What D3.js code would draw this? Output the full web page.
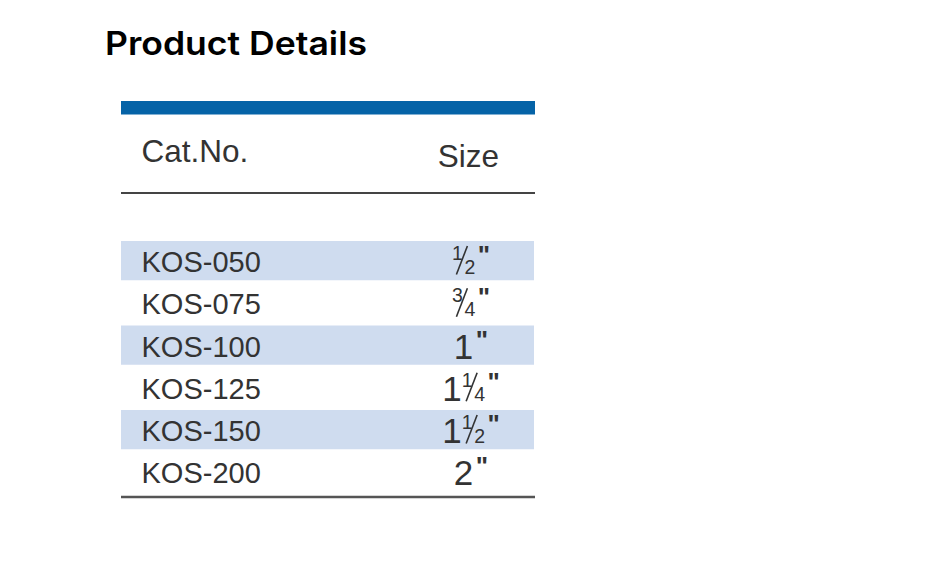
<!DOCTYPE html>
<html>
<head>
<meta charset="utf-8">
<script src="https://cdn.jsdelivr.net/npm/d3@7"></script>
<style>
  body { margin: 0; background: #fff; }
  svg { display: block; }
</style>
</head>
<body>
<svg id="chart"></svg>
<script>
// table content
const titleText = "Product Details";
const columns = ["Cat.No.", "Size"];
const catNos = ["KOS-050", "KOS-075", "KOS-100", "KOS-125", "KOS-150", "KOS-200"];
const sizeWhole = ["", "", "1", "1", "1", "2"];
const sizeNum = ["1", "3", "", "1", "1", ""];
const sizeDen = ["2", "4", "", "4", "2", ""];

const width = 952, height = 578;
const table = { left: 121, right: 535, top: 241, rowStep: 42.25 };
const font = "'Liberation Sans', Arial, sans-serif";
const ink = "#333";

const svg = d3.select("#chart")
  .attr("width", width)
  .attr("height", height);

// title
svg.append("text")
  .attr("x", 105)
  .attr("y", 54.5)
  .attr("font-family", "Inter, 'Noto Sans', sans-serif")
  .attr("font-weight", 600)
  .attr("font-size", 33)
  .attr("textLength", 262)
  .attr("lengthAdjust", "spacingAndGlyphs")
  .attr("fill", "#000")
  .text(titleText);

// column positions
const xCol = d3.scaleOrdinal()
  .domain(columns)
  .range([141.5, 470]);

// row positions
const yRow = d3.scaleBand()
  .domain(catNos)
  .range([table.top, table.top + table.rowStep * catNos.length]);

// blue bar on top
svg.append("rect")
  .attr("x", table.left)
  .attr("y", 101)
  .attr("width", table.right - table.left)
  .attr("height", 13.5)
  .attr("fill", "#0563a7");

// header labels
svg.selectAll(".col-head")
  .data(columns)
  .join("text")
  .attr("class", "col-head")
  .attr("x", (d, i) => i === 0 ? xCol(d) : xCol(d) - 1.5)
  .attr("y", (d, i) => i === 0 ? 162 : 166.5)
  .attr("text-anchor", (d, i) => i === 0 ? "start" : "middle")
  .attr("font-family", font)
  .attr("font-size", 31.5)
  .attr("fill", ink)
  .text(d => d);

// header rule
svg.append("line")
  .attr("x1", table.left).attr("x2", table.right)
  .attr("y1", 193).attr("y2", 193)
  .attr("stroke", "#444")
  .attr("stroke-width", 2);

// shaded alternate rows
svg.selectAll(".band")
  .data(catNos.filter((d, i) => i % 2 === 0))
  .join("rect")
  .attr("class", "band")
  .attr("x", table.left)
  .attr("y", d => yRow(d))
  .attr("width", table.right - table.left - 1)
  .attr("height", yRow.bandwidth() - 3)
  .attr("fill", "#cfdcef");

// cat numbers
svg.selectAll(".cat")
  .data(catNos)
  .join("text")
  .attr("class", "cat")
  .attr("x", xCol(columns[0]))
  .attr("y", d => yRow(d) + 31)
  .attr("font-family", font)
  .attr("font-size", 29)
  .attr("fill", ink)
  .text(d => d);

// sizes: whole number, stacked fraction with a slash, inch mark
svg.selectAll(".size")
  .data(catNos)
  .join("g")
  .attr("class", "size")
  .each(function (d, i) {
    const g = d3.select(this);
    let cx = 0;
    if (sizeWhole[i]) {
      const w = g.append("text")
        .attr("x", cx).attr("y", 0)
        .attr("font-family", font)
        .attr("font-size", 35)
        .attr("fill", ink)
        .text(sizeWhole[i]);
      cx += w.node().getComputedTextLength();
    }
    if (sizeNum[i]) {
      g.append("text")
        .attr("x", cx).attr("y", -14)
        .attr("font-family", font)
        .attr("font-size", 19.5)
        .attr("fill", ink)
        .text(sizeNum[i]);
      g.append("line")
        .attr("x1", cx + 4.5).attr("y1", 0.5)
        .attr("x2", cx + 15.5).attr("y2", -28)
        .attr("stroke", ink)
        .attr("stroke-width", 1.6);
      const den = g.append("text")
        .attr("x", cx + 12.5).attr("y", 0)
        .attr("font-family", font)
        .attr("font-size", 19.5)
        .attr("fill", ink)
        .text(sizeDen[i]);
      cx += 12.5 + den.node().getComputedTextLength();
    }
    const mark = g.append("text")
      .attr("x", cx + 2.5).attr("y", -10)
      .attr("font-family", font)
      .attr("font-size", 26)
      .attr("font-weight", "bold")
      .attr("fill", ink)
      .text("\"");
    cx += 2.5 + mark.node().getComputedTextLength() - 2;
    g.attr("transform", `translate(${xCol(columns[1]) - cx / 2},${yRow(d) + 33})`);
  });

// bottom rule
svg.append("line")
  .attr("x1", table.left).attr("x2", table.right)
  .attr("y1", 497).attr("y2", 497)
  .attr("stroke", "#555")
  .attr("stroke-width", 2.5);
</script>
</body>
</html>
